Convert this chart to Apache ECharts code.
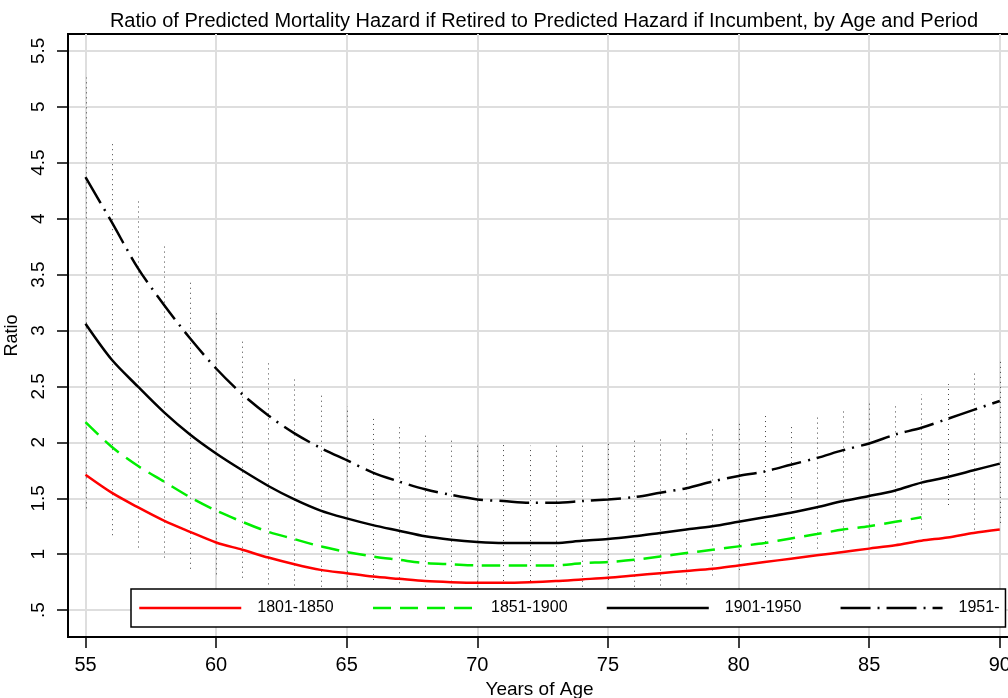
<!DOCTYPE html>
<html><head><meta charset="utf-8">
<script src="https://cdn.jsdelivr.net/npm/echarts@6/dist/echarts.min.js"></script>
<style>html,body{margin:0;padding:0;background:#fff}#c{width:1008px;height:698px}</style>
</head><body><div id="c"></div>
<script>
// ---- data ----
const ages = [55,56,57,58,59,60,61,62,63,64,65,66,67,68,69,70,71,72,73,74,75,76,77,78,79,80,81,82,83,84,85,86,87,88,89,90];
const agesGreen = [55,56,57,58,59,60,61,62,63,64,65,66,67,68,69,70,71,72,73,74,75,76,77,78,79,80,81,82,83,84,85,86,87];
const p1801 = [1.71,1.55,1.42,1.30,1.20,1.105,1.04,0.97,0.91,0.86,0.83,0.80,0.78,0.76,0.75,0.745,0.745,0.75,0.76,0.775,0.79,0.81,0.83,0.85,0.87,0.90,0.93,0.96,0.99,1.02,1.05,1.08,1.12,1.15,1.19,1.22];
const p1851 = [2.18,1.96,1.79,1.65,1.51,1.39,1.29,1.20,1.135,1.07,1.02,0.98,0.95,0.92,0.91,0.90,0.90,0.90,0.90,0.92,0.93,0.95,0.98,1.01,1.04,1.07,1.10,1.14,1.18,1.22,1.25,1.29,1.33];
const p1901 = [3.06,2.74,2.50,2.27,2.07,1.90,1.75,1.61,1.49,1.39,1.32,1.26,1.21,1.16,1.13,1.11,1.10,1.10,1.10,1.12,1.135,1.16,1.19,1.22,1.25,1.29,1.33,1.37,1.42,1.475,1.52,1.57,1.64,1.69,1.75,1.81];
const p1951 = [4.37,3.97,3.56,3.23,2.93,2.66,2.43,2.24,2.08,1.95,1.84,1.73,1.65,1.58,1.53,1.49,1.475,1.46,1.46,1.475,1.49,1.51,1.55,1.59,1.65,1.70,1.74,1.80,1.86,1.93,1.99,2.07,2.13,2.21,2.29,2.37];
const dotLow  = [1.41,1.17,1.06,0.97,0.87,0.82,0.79,0.73,0.72,0.62,0.62,0.77,0.74,0.62,0.62,0.62,0.76,0.76,0.62,0.62,0.77,0.62,0.72,0.73,0.81,0.86,0.93,1.01,1.05,1.06,1.13,1.15,1.22,1.44,1.22,1.28];
const dotHigh = [5.26,4.67,4.17,3.78,3.44,3.17,2.93,2.74,2.58,2.43,2.32,2.24,2.14,2.08,2.03,2.00,1.98,1.97,1.97,1.98,1.99,2.02,2.05,2.09,2.14,2.19,2.24,2.17,2.23,2.29,2.36,2.35,2.43,2.52,2.62,2.72];
const seriesNames = ['1801-1850','1851-1900','1901-1950','1951-'];
const xTicks = [55,60,65,70,75,80,85,90];
const yTicks = [0.5,1,1.5,2,2.5,3,3.5,4,4.5,5,5.5];
const yTickLabels = ['.5','1','1.5','2','2.5','3','3.5','4','4.5','5','5.5'];
const titleText = 'Ratio of Predicted Mortality Hazard if Retired to Predicted Hazard if Incumbent, by Age and Period';

const FONT = "'Liberation Sans', Arial, sans-serif";
const pair = (xs, ys) => xs.map((x, i) => [x, ys[i]]);

const chart = echarts.init(document.getElementById('c'), null, {renderer: 'canvas'});
chart.setOption({
  animation: false,
  backgroundColor: '#fff',
  textStyle: {fontFamily: FONT},
  title: {
    text: titleText, left: 539, textAlign: 'center', top: 6,
    textStyle: {fontFamily: FONT, fontSize: 20, fontWeight: 'normal', color: '#000'}
  },
  grid: {left: 68, top: 34, right: -3, bottom: 61, containLabel: false, outerBoundsMode: 'none',
    show: true, borderColor: '#000', borderWidth: 2, backgroundColor: 'transparent'},
  xAxis: {
    type: 'value', min: 54.33, max: 90.43,
    axisLine: {show: true, onZero: false, lineStyle: {color: '#000', width: 2}},
    axisTick: {show: true, customValues: xTicks, length: 11, lineStyle: {color: '#000', width: 1.5}},
    axisLabel: {customValues: xTicks, fontSize: 20, color: '#000', margin: 18, fontFamily: FONT},
    splitLine: {show: false},
    name: 'Years of Age', nameLocation: 'middle', nameGap: 40,
    nameTextStyle: {fontSize: 19, color: '#000', fontFamily: FONT}
  },
  yAxis: {
    type: 'value', min: 0.26, max: 5.65,
    axisLine: {show: true, onZero: false, lineStyle: {color: '#000', width: 2}},
    axisTick: {show: true, customValues: yTicks, length: 11, lineStyle: {color: '#000', width: 1.5}},
    axisLabel: {customValues: yTicks, rotate: 90, fontSize: 19, color: '#000', margin: 20, fontFamily: FONT,
      formatter: v => { const i = yTicks.findIndex(t => Math.abs(t - v) < 1e-6); return i >= 0 ? yTickLabels[i] : ''; }},
    splitLine: {show: false},
    name: 'Ratio', nameLocation: 'middle', nameGap: 35,
    nameTextStyle: {fontSize: 18, color: '#000', fontFamily: FONT}
  },
  legend: {
    data: seriesNames, left: 131, top: 589, width: 862, orient: 'horizontal',
    itemWidth: 102, itemHeight: 14, itemGap: 38,
    padding: [11, 6, 11, 7],
    backgroundColor: '#fff', borderColor: '#000', borderWidth: 1.5, borderRadius: 0,
    itemStyle: {color: 'rgba(0,0,0,0)', borderWidth: 0},
    lineStyle: {width: 2.5},
    textStyle: {fontSize: 16, color: '#000', fontFamily: FONT, padding: [0, 0, 0, 11]},
    z: 10
  },
  series: [
    {
      name: '_grid', type: 'line', data: [], z: 0, silent: true,
      markLine: {
        silent: true, symbol: 'none', label: {show: false}, animation: false, z: 0,
        lineStyle: {color: '#dedede', width: 2, type: 'solid'},
        emphasis: {disabled: true},
        data: yTicks.map(v => ({yAxis: v})).concat(xTicks.map(v => ({xAxis: v})))
      }
    },
    {
      name: '_dots', type: 'custom', z: 1, silent: true, clip: true,
      data: ages.map((a, i) => [a, dotLow[i], dotHigh[i]]),
      encode: {x: 0, y: [1, 2]},
      renderItem: (params, api) => {
        const p1 = api.coord([api.value(0), api.value(1)]);
        const p2 = api.coord([api.value(0), api.value(2)]);
        return {type: 'line', shape: {x1: Math.round(p1[0]) + 0.5, y1: p1[1], x2: Math.round(p2[0]) + 0.5, y2: p2[1]},
          style: {stroke: '#444', lineWidth: 1, lineDash: [1, 4]}};
      }
    },
    {name: seriesNames[0], type: 'line', data: pair(ages, p1801), symbol: 'none', smooth: 0.3, z: 3,
      color: '#ff0000', lineStyle: {color: '#ff0000', width: 2.5}},
    {name: seriesNames[1], type: 'line', data: pair(agesGreen, p1851), symbol: 'none', smooth: 0.3, z: 3,
      color: '#00ee00', lineStyle: {color: '#00ee00', width: 2.5, type: [18, 9]}},
    {name: seriesNames[2], type: 'line', data: pair(ages, p1901), symbol: 'none', smooth: 0.3, z: 3,
      color: '#000', lineStyle: {color: '#000', width: 2.5}},
    {name: seriesNames[3], type: 'line', data: pair(ages, p1951), symbol: 'none', smooth: 0.3, z: 3,
      color: '#000', lineStyle: {color: '#000', width: 2.5, type: [30, 7, 2, 7]}}
  ]
});
</script>
</body></html>
